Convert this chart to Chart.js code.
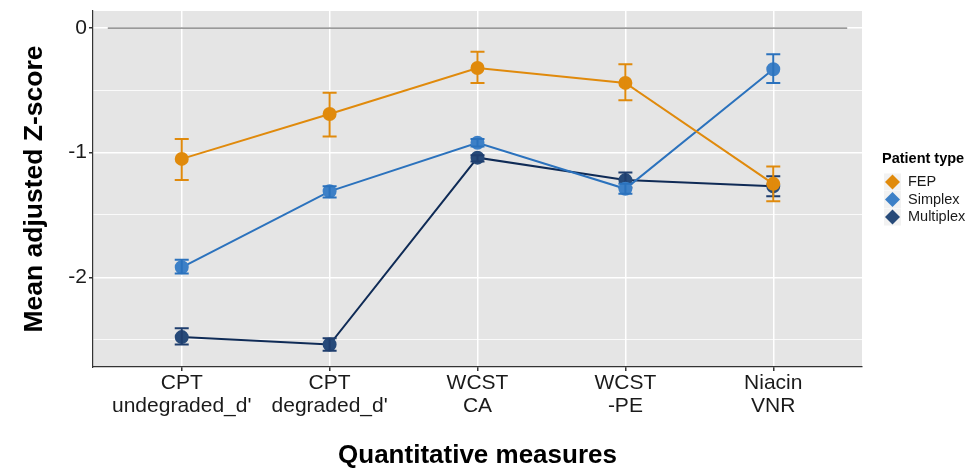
<!DOCTYPE html>
<html>
<head>
<meta charset="utf-8">
<script src="https://cdn.jsdelivr.net/npm/chart.js@4"></script>
<style>
  html, body { margin: 0; padding: 0; background: #FFFFFF; }
  #wrap { width: 966px; height: 469px; }
</style>
</head>
<body>
<div id="wrap"><canvas id="chart"></canvas></div>
<script>
const categories = [
    ['CPT', "undegraded_d'"],
    ['CPT', "degraded_d'"],
    ['WCST', 'CA'],
    ['WCST', '-PE'],
    ['Niacin', 'VNR']
];
const groups = ['FEP', 'Simplex', 'Multiplex'];

const fepMean = [-1.05, -0.69, -0.32, -0.44, -1.25];
const fepLow = [-1.22, -0.87, -0.44, -0.58, -1.39];
const fepHigh = [-0.89, -0.52, -0.19, -0.29, -1.11];

const simplexMean = [-1.92, -1.31, -0.92, -1.29, -0.33];
const simplexLow = [-1.97, -1.36, -0.95, -1.33, -0.44];
const simplexHigh = [-1.86, -1.27, -0.89, -1.25, -0.21];

const multiplexMean = [-2.48, -2.54, -1.04, -1.22, -1.27];
const multiplexLow = [-2.54, -2.59, -1.07, -1.28, -1.35];
const multiplexHigh = [-2.41, -2.49, -1.02, -1.16, -1.19];

const yTicks = [0, -1, -2];

const pointColors = ['#E08A0C', '#3D80C7', '#274A79'];
const lineColors = ['#E08A0C', '#2B72BD', '#0F2B56'];
const barColors = ['#E08A0C', '#2B72BD', '#1F3E6E'];

const means = [fepMean, simplexMean, multiplexMean];
const lows = [fepLow, simplexLow, multiplexLow];
const highs = [fepHigh, simplexHigh, multiplexHigh];

const FONT = "'Liberation Sans', Arial, sans-serif";

// error bars + reference line at zero
const errorBars = {
    id: 'errorBars',
    beforeDatasetsDraw(chart) {
        const x = chart.scales.x, y = chart.scales.y, c = chart.ctx;
        c.save();
        c.strokeStyle = '#555555';
        c.lineWidth = 1;
        c.beginPath();
        c.moveTo(x.getPixelForValue(0.5), y.getPixelForValue(0));
        c.lineTo(x.getPixelForValue(5.5), y.getPixelForValue(0));
        c.stroke();
        c.restore();
    },
    afterDatasetDraw(chart, args) {
        const i = args.index;
        const x = chart.scales.x, y = chart.scales.y, c = chart.ctx;
        c.save();
        c.strokeStyle = barColors[i];
        c.lineWidth = 2;
        categories.forEach((cat, j) => {
            const px = x.getPixelForValue(j + 1);
            const lo = y.getPixelForValue(lows[i][j]);
            const hi = y.getPixelForValue(highs[i][j]);
            c.beginPath();
            c.moveTo(px, lo); c.lineTo(px, hi);
            c.moveTo(px - 7, lo); c.lineTo(px + 7, lo);
            c.moveTo(px - 7, hi); c.lineTo(px + 7, hi);
            c.stroke();
        });
        c.restore();
    }
};

// axis titles and legend
const decorations = {
    id: 'decorations',
    afterDraw(chart) {
        const c = chart.ctx, a = chart.chartArea;
        c.save();
        c.fillStyle = '#000000';
        c.font = 'bold 26px ' + FONT;
        c.textAlign = 'center';
        c.textBaseline = 'middle';
        c.fillText('Quantitative measures', (a.left + a.right) / 2, 456);
        c.translate(35, 189);
        c.rotate(-Math.PI / 2);
        c.font = 'bold 26.5px ' + FONT;
        c.fillText('Mean adjusted Z-score', 0, 0);
        c.restore();

        c.save();
        c.textAlign = 'left';
        c.textBaseline = 'middle';
        c.fillStyle = '#000000';
        c.font = 'bold 14.5px ' + FONT;
        c.fillText('Patient type', 882, 159);
        c.font = '14.5px ' + FONT;
        groups.forEach((g, i) => {
            const cy = 182 + i * 17.5;
            c.fillStyle = '#F2F2F2';
            c.fillRect(884, cy - 8.5, 17, 17);
            c.fillStyle = pointColors[i];
            c.beginPath();
            c.moveTo(892.5, cy - 7.5);
            c.lineTo(900, cy);
            c.lineTo(892.5, cy + 7.5);
            c.lineTo(885, cy);
            c.closePath();
            c.fill();
            c.fillStyle = '#1A1A1A';
            c.fillText(g, 908, cy);
        });
        c.restore();
    }
};

const panelBg = {
    id: 'panelBg',
    beforeDraw(chart) {
        const c = chart.ctx, a = chart.chartArea;
        c.save();
        c.fillStyle = '#E5E5E5';
        c.fillRect(a.left, a.top, a.right - a.left, a.bottom - a.top);
        c.restore();
    }
};

const datasets = groups.map((g, i) => ({
    label: g,
    data: means[i].map((v, j) => ({ x: j + 1, y: v })),
    borderColor: lineColors[i],
    backgroundColor: pointColors[i],
    pointBackgroundColor: pointColors[i],
    pointBorderColor: pointColors[i],
    pointRadius: 6,
    pointHoverRadius: 6,
    borderWidth: 2,
    tension: 0
}));

new Chart(document.getElementById('chart'), {
    type: 'line',
    data: { datasets: datasets },
    plugins: [panelBg, errorBars, decorations],
    options: {
        responsive: true,
        maintainAspectRatio: false,
        animation: false,
        layout: { padding: { top: 11, right: 104, left: 0, bottom: 0 } },
        plugins: {
            legend: { display: false },
            tooltip: { enabled: false }
        },
        scales: {
            x: {
                type: 'linear',
                min: 0.4,
                max: 5.6,
                afterFit: (s) => { s.height = 102; s.paddingLeft = 0; s.paddingRight = 0; },
                grid: {
                    color: '#FFFFFF',
                    lineWidth: 1.5,
                    tickColor: '#333333',
                    tickLength: 4
                },
                border: { color: '#333333', width: 1.2 },
                ticks: {
                    stepSize: 1,
                    includeBounds: false,
                    autoSkip: false,
                    maxRotation: 0,
                    padding: 1,
                    color: '#1A1A1A',
                    font: { family: FONT, size: 21, lineHeight: 1.1 },
                    callback: (v) => categories[v - 1] || ''
                }
            },
            y: {
                min: -2.72,
                max: 0.137,
                afterFit: (s) => { s.width = 93; s.paddingTop = 0; s.paddingBottom = 0; },
                grid: {
                    color: '#FFFFFF',
                    lineWidth: (ctx) => Number.isInteger(ctx.tick.value) ? 1.5 : 0.8,
                    tickColor: (ctx) => Number.isInteger(ctx.tick.value) ? '#333333' : 'rgba(0,0,0,0)',
                    tickLength: 4
                },
                border: { color: '#333333', width: 1.2 },
                ticks: {
                    stepSize: 0.5,
                    includeBounds: false,
                    padding: 2,
                    color: '#1A1A1A',
                    font: { family: FONT, size: 21 },
                    callback: (v) => yTicks.includes(v) ? String(v) : ''
                }
            }
        }
    }
});
</script>
</body>
</html>
